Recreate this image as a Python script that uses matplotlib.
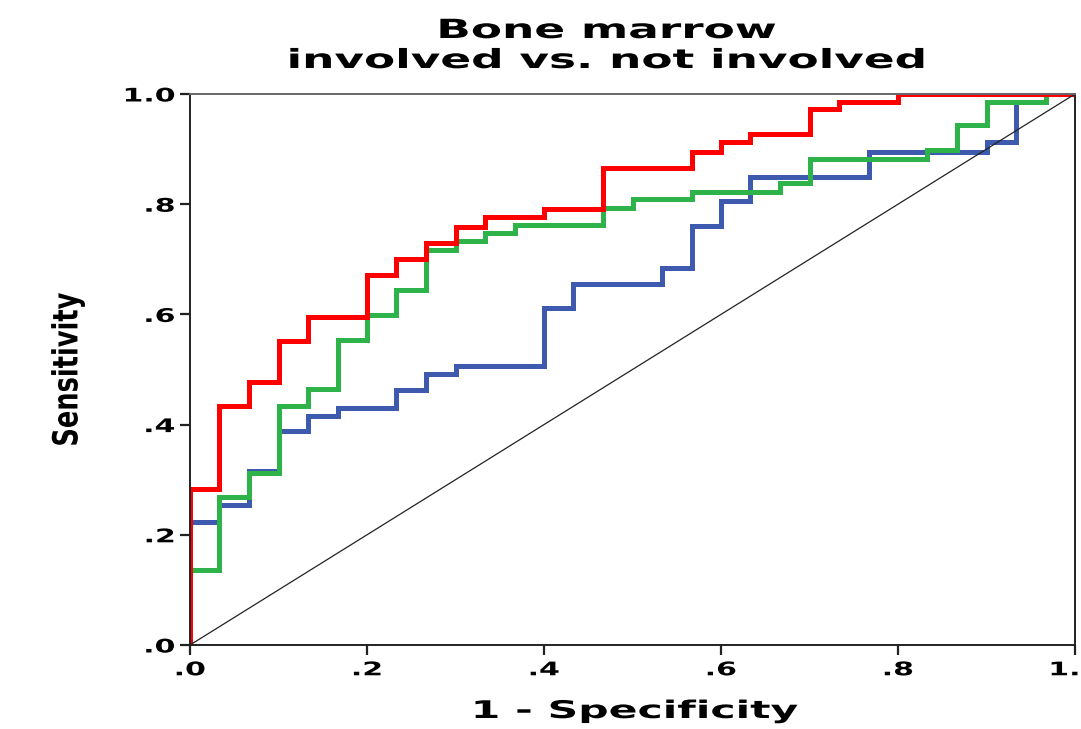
import numpy as np
import matplotlib
matplotlib.use("Agg")
import matplotlib.pyplot as plt
import matplotlib.patheffects as pe
from matplotlib.transforms import Affine2D

# ROC points (1 - specificity, sensitivity), one list pair per curve
red_fpr = [0, 0, 0.033, 0.067, 0.100, 0.133, 0.200, 0.233, 0.267, 0.300, 0.333,
           0.400, 0.467, 0.567, 0.600, 0.633, 0.700, 0.733, 0.800, 1.0]
red_tpr = [0, 0.283, 0.433, 0.477, 0.551, 0.596, 0.671, 0.701, 0.730, 0.759, 0.777,
           0.791, 0.865, 0.895, 0.912, 0.927, 0.972, 0.986, 1.0, 1.0]

green_fpr = [0, 0, 0.033, 0.067, 0.100, 0.133, 0.167, 0.200, 0.233, 0.267, 0.300,
             0.333, 0.367, 0.467, 0.500, 0.567, 0.667, 0.700, 0.833, 0.867, 0.900,
             0.967, 1.0]
green_tpr = [0, 0.136, 0.269, 0.313, 0.433, 0.464, 0.554, 0.599, 0.644, 0.717, 0.734,
             0.748, 0.762, 0.794, 0.809, 0.823, 0.838, 0.882, 0.898, 0.944, 0.986,
             1.0, 1.0]

blue_fpr = [0, 0, 0.033, 0.067, 0.100, 0.133, 0.167, 0.233, 0.267, 0.300, 0.400,
            0.433, 0.533, 0.567, 0.600, 0.633, 0.767, 0.900, 0.933, 0.967, 1.0]
blue_tpr = [0, 0.223, 0.254, 0.315, 0.388, 0.416, 0.431, 0.463, 0.492, 0.507, 0.612,
            0.656, 0.685, 0.761, 0.805, 0.850, 0.895, 0.912, 0.986, 1.0, 1.0]

ref_line = [0, 1]
tick_vals = [0, 0.2, 0.4, 0.6, 0.8, 1.0]
tick_labels = [".0", ".2", ".4", ".6", ".8", "1.0"]


class Widen(pe.AbstractPathEffect):
    """draw text glyphs stretched along one direction"""
    def __init__(self, s=1.8, anchor=0.5, axis="x"):
        super().__init__()
        self.s = s
        self.anchor = anchor
        self.axis = axis

    def draw_path(self, renderer, gc, tpath, affine, rgbFace=None):
        ext = tpath.get_extents()
        if self.axis == "x":
            c = ext.x0 + self.anchor * ext.width
            t = Affine2D().translate(-c, 0).scale(self.s, 1).translate(c, 0)
        else:
            c = ext.y0 + self.anchor * ext.height
            t = Affine2D().translate(0, -c).scale(1, self.s).translate(0, c)
        renderer.draw_path(gc, tpath, t + affine, rgbFace)


fig = plt.figure(figsize=(10.81, 7.29), dpi=100)
ax = fig.add_axes([190 / 1081, 1 - 645 / 729, 885 / 1081, 551 / 729])

lw = 3.6
ax.plot(blue_fpr, blue_tpr, drawstyle="steps-post", color="#3d5aae", lw=lw,
        solid_joinstyle="miter", solid_capstyle="butt")
ax.plot(green_fpr, green_tpr, drawstyle="steps-post", color="#2db34a", lw=lw,
        solid_joinstyle="miter", solid_capstyle="butt")
ax.plot(red_fpr, red_tpr, drawstyle="steps-post", color="#ff0000", lw=lw,
        solid_joinstyle="miter", solid_capstyle="butt")
ax.plot(ref_line, ref_line, color="#222222", lw=0.9)

ax.set_xlim(0, 1)
ax.set_ylim(0, 1)
ax.set_xticks(tick_vals)
ax.set_yticks(tick_vals)
ax.set_xticklabels(tick_labels, fontsize=13.5, fontweight="bold")
ax.set_yticklabels(tick_labels, fontsize=13.5, fontweight="bold")
ax.tick_params(direction="out", length=7, width=1.6, color="#222222", pad=4)

for sp in ax.spines.values():
    sp.set_linewidth(1.4)
    sp.set_color("#222222")
ax.spines["top"].set_color("#666666")

for lab in ax.get_xticklabels():
    lab.set_path_effects([Widen(1.6, 0.5)])
for lab in ax.get_yticklabels():
    lab.set_path_effects([Widen(1.6, 1.0)])

ax.set_xlabel("1 - Specificity", fontsize=17.5, fontweight="bold", va="center",
              path_effects=[Widen(1.75, 0.5)])
ax.xaxis.set_label_coords((635 - 190) / 885, -(711 - 645) / 551)
ax.set_ylabel("Sensitivity", fontsize=18.5, fontweight="bold", va="center",
              path_effects=[Widen(1.35, 0.5, axis="y")])
ax.yaxis.set_label_coords((68 - 190) / 885, 0.5)

fig.text(607 / 1081, 1 - 46 / 729, "Bone marrow\ninvolved vs. not involved",
         ha="center", va="center", fontsize=19, fontweight="bold", linespacing=1.2,
         path_effects=[Widen(1.72, 0.5)])

fig.savefig("out.png", dpi=100)
